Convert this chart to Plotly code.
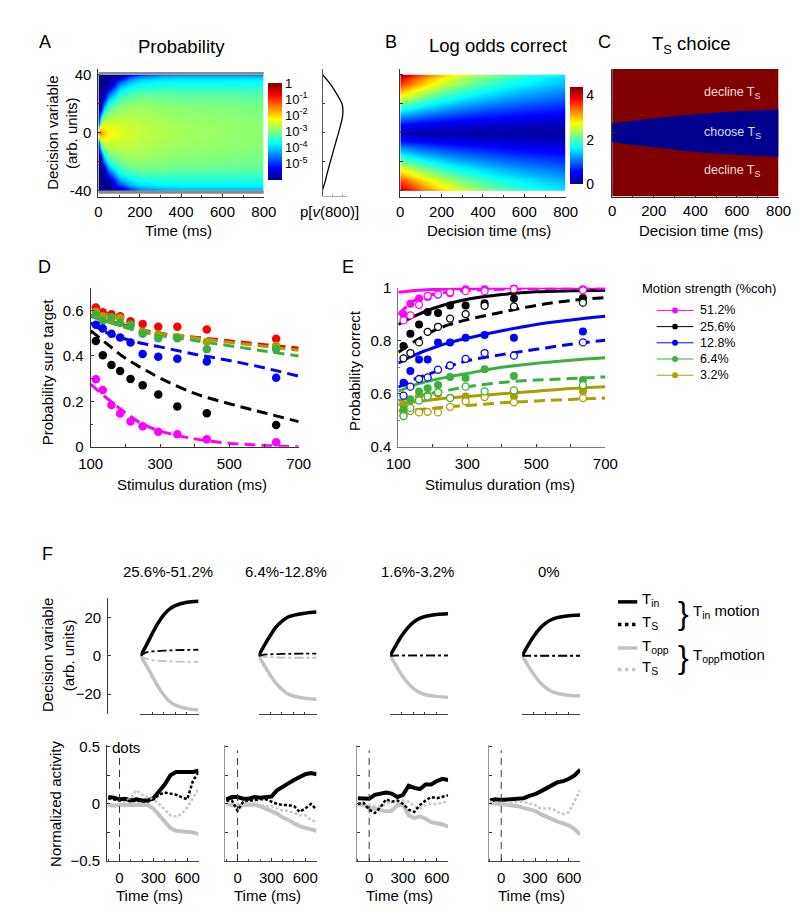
import plotly.graph_objects as go

W, H = 800, 911
FONT = "Liberation Sans, Arial, sans-serif"


def fx(px):
    return px / W


def fy(py):
    return 1 - py / H


# ---------------- Panel A : probability of decision variable ----------------
A_time = [0, 12, 25, 50, 100, 150, 200, 300, 400, 600, 800]
A_v_edges = [-40, -39, -36, -30, -22, -14, -7, -3, 3, 7, 14, 22, 30, 36, 39, 40]
# log10 probability at |v| = 0, 5, 10.5, 18, 26, 33, 37.5, 39.5 (one list per time)
A_logp_t0 = [-1.2, -4.5, -6.0, -6.0, -6.0, -6.0, -6.0, -6.0]
A_logp_t12 = [-1.5, -2.4, -3.8, -6.0, -6.0, -6.0, -6.0, -6.0]
A_logp_t25 = [-1.9, -2.3, -2.9, -4.3, -6.0, -6.0, -6.0, -6.0]
A_logp_t50 = [-2.2, -2.4, -2.7, -3.3, -4.5, -6.0, -6.0, -6.0]
A_logp_t100 = [-2.4, -2.5, -2.65, -2.95, -3.5, -4.3, -5.5, -6.0]
A_logp_t150 = [-2.5, -2.55, -2.65, -2.85, -3.25, -3.9, -4.6, -5.5]
A_logp_t200 = [-2.6, -2.62, -2.7, -2.85, -3.15, -3.7, -4.2, -5.0]
A_logp_t300 = [-2.7, -2.72, -2.78, -2.9, -3.15, -3.6, -4.0, -4.6]
A_logp_t400 = [-2.78, -2.8, -2.85, -2.95, -3.2, -3.6, -3.95, -4.5]
A_logp_t600 = [-2.85, -2.87, -2.9, -3.0, -3.2, -3.6, -3.95, -4.5]
A_logp_t800 = [-2.92, -2.93, -2.96, -3.05, -3.25, -3.6, -3.95, -4.5]
A_cols = [A_logp_t0, A_logp_t12, A_logp_t25, A_logp_t50, A_logp_t100, A_logp_t150,
          A_logp_t200, A_logp_t300, A_logp_t400, A_logp_t600, A_logp_t800]
A_row_index = [7, 6, 5, 4, 3, 2, 1, 0, 1, 2, 3, 4, 5, 6, 7]
A_z = [[col[i] for col in A_cols] for i in A_row_index]
A_cb_vals = [0, -1, -2, -3, -4, -5]
A_cb_text = ["1", "10<sup>-1</sup>", "10<sup>-2</sup>", "10<sup>-3</sup>", "10<sup>-4</sup>", "10<sup>-5</sup>"]

# distribution at 800 ms
Pv_v = [-40, -35, -30, -20, -10, 0, 10, 16, 20, 30, 35, 40]
Pv_p = [0.0, 0.11, 0.2, 0.39, 0.59, 0.79, 0.97, 1.0, 0.95, 0.55, 0.3, 0.0]

# ---------------- Panel B : log odds correct ----------------
B_time = [0, 100, 200, 300, 400, 500, 600, 700, 800]
B_v_edges = [-40, -38, -30, -20, -10, -0.5, 0.5, 10, 20, 30, 38, 40]
B_v39 = [4.14, 3.43, 2.93, 2.54, 2.26, 2.03, 1.84, 1.69, 1.55]
B_v34 = [3.61, 2.99, 2.55, 2.22, 1.97, 1.77, 1.61, 1.47, 1.35]
B_v25 = [2.66, 2.20, 1.88, 1.63, 1.45, 1.30, 1.18, 1.08, 0.99]
B_v15 = [1.59, 1.32, 1.13, 0.98, 0.87, 0.78, 0.71, 0.65, 0.60]
B_v5 = [0.56, 0.46, 0.39, 0.34, 0.30, 0.27, 0.25, 0.23, 0.21]
B_v0 = [0, 0, 0, 0, 0, 0, 0, 0, 0]
B_z = [B_v39, B_v34, B_v25, B_v15, B_v5, B_v0, B_v5, B_v15, B_v25, B_v34, B_v39]

# ---------------- Panel C : Ts choice boundary ----------------
C_time = [0, 100, 200, 300, 400, 500, 600, 700, 800]
C_upper = [6.5, 8.5, 10, 11.5, 13, 14, 14.8, 15.5, 16]
C_lower = [-6.5, -8.5, -10.2, -11.8, -13.3, -14.3, -15.2, -16, -16.7]

# ---------------- Panel D : probability sure target ----------------
D_dur = [115, 135, 160, 185, 215, 250, 295, 350, 435, 635]
D_red = [0.613, 0.593, 0.584, 0.575, 0.553, 0.541, 0.529, 0.529, 0.517, 0.476]
D_olive = [0.595, 0.575, 0.565, 0.567, 0.538, 0.507, 0.495, 0.483, 0.463, 0.445]
D_green = [0.58, 0.555, 0.57, 0.545, 0.538, 0.498, 0.478, 0.478, 0.430, 0.430]
D_blue = [0.538, 0.521, 0.498, 0.481, 0.459, 0.409, 0.397, 0.388, 0.376, 0.304]
D_black = [0.466, 0.403, 0.360, 0.334, 0.299, 0.271, 0.230, 0.178, 0.148, 0.096]
D_magenta = [0.298, 0.250, 0.184, 0.147, 0.112, 0.091, 0.066, 0.055, 0.033, 0.020]
FIT_T = [100, 150, 200, 250, 300, 400, 500, 600, 700]
Dfit_red = [0.58, 0.555, 0.535, 0.515, 0.50, 0.483, 0.467, 0.45, 0.435]
Dfit_olive = [0.575, 0.55, 0.53, 0.51, 0.497, 0.48, 0.46, 0.443, 0.425]
Dfit_green = [0.575, 0.55, 0.525, 0.505, 0.49, 0.468, 0.445, 0.422, 0.40]
Dfit_blue = [0.545, 0.50, 0.475, 0.455, 0.44, 0.408, 0.38, 0.348, 0.311]
Dfit_black = [0.512, 0.45, 0.39, 0.345, 0.303, 0.235, 0.19, 0.15, 0.111]
Dfit_magenta = [0.276, 0.21, 0.15, 0.10, 0.07, 0.035, 0.016, 0.006, 0.0]

# ---------------- Panel E : probability correct ----------------
E_mag_f = [0.90, 0.94, 0.96, 0.965, 0.975, 0.98, 0.995, 0.995, 0.998, 0.995]
E_mag_o = [0.877, 0.896, 0.936, 0.970, 0.975, 0.983, 0.988, 0.988, 0.995, 0.991]
E_blk_f = [0.781, 0.827, 0.862, 0.909, 0.905, 0.933, 0.933, 0.942, 0.960, 0.962]
E_blk_o = [0.734, 0.754, 0.794, 0.834, 0.853, 0.884, 0.901, 0.932, 0.93, 0.944]
E_blu_f = [0.642, 0.686, 0.73, 0.73, 0.794, 0.794, 0.812, 0.822, 0.812, 0.835]
E_blu_o = [0.593, 0.627, 0.656, 0.662, 0.691, 0.707, 0.732, 0.754, 0.744, 0.794]
E_grn_f = [0.541, 0.58, 0.609, 0.621, 0.633, 0.664, 0.66, 0.693, 0.667, 0.652]
E_grn_o = [0.516, 0.547, 0.575, 0.59, 0.606, 0.584, 0.627, 0.609, 0.613, 0.633]
E_olv_f = [0.56, 0.575, 0.59, 0.595, 0.60, 0.585, 0.59, 0.595, 0.59, 0.61]
E_olv_o = [0.52, 0.535, 0.53, 0.532, 0.53, 0.551, 0.572, 0.588, 0.568, 0.584]
Efit_mag_s = [0.983, 0.99, 0.994, 0.996, 0.997, 0.999, 1.0, 1.0, 1.0]
Efit_mag_d = [0.90, 0.955, 0.975, 0.984, 0.99, 0.995, 0.997, 0.998, 0.998]
Efit_blk_s = [0.862, 0.895, 0.922, 0.942, 0.957, 0.975, 0.985, 0.989, 0.991]
Efit_blk_d = [0.757, 0.80, 0.837, 0.862, 0.88, 0.908, 0.934, 0.952, 0.963]
Efit_blu_s = [0.716, 0.748, 0.773, 0.794, 0.810, 0.838, 0.862, 0.879, 0.893]
Efit_blu_d = [0.625, 0.657, 0.68, 0.705, 0.725, 0.748, 0.768, 0.787, 0.802]
Efit_grn_s = [0.61, 0.635, 0.652, 0.665, 0.677, 0.70, 0.715, 0.727, 0.736]
Efit_grn_d = [0.575, 0.59, 0.603, 0.615, 0.627, 0.643, 0.652, 0.658, 0.664]
Efit_olv_s = [0.56, 0.57, 0.578, 0.585, 0.59, 0.60, 0.61, 0.62, 0.627]
Efit_olv_d = [0.535, 0.54, 0.545, 0.552, 0.556, 0.566, 0.573, 0.579, 0.584]
coh_labels = ["51.2%", "25.6%", "12.8%", "6.4%", "3.2%"]

# ---------------- Panel F top : model decision variable ----------------
FT_t = [200, 250, 300, 350, 400, 450, 500, 600, 700]
FT_in_1 = [0, 5.5, 11.5, 17, 21.5, 24.5, 26.3, 28, 28.6]
FT_opp_1 = [0, -5, -10.5, -16, -20.5, -23.8, -25.8, -27.6, -28.3]
FT_sin_1 = [0, 1.8, 2.3, 2.5, 2.7, 2.85, 3.0, 3.1, 3.2]
FT_sopp_1 = [0, -1.5, -2.2, -2.5, -2.7, -2.85, -3.0, -3.1, -3.2]
FT_in_2 = [0, 5.5, 10.5, 15, 18, 20.2, 21.2, 22.3, 22.9]
FT_opp_2 = [0, -5, -10, -14.3, -17.5, -19.8, -21, -22.2, -22.7]
FT_sin_2 = [0, 0.6, 0.8, 0.9, 1.0, 1.05, 1.1, 1.15, 1.2]
FT_sopp_2 = [0, -0.5, -0.7, -0.8, -0.9, -0.95, -1.0, -1.0, -1.0]
FT_in_3 = [0, 5.5, 10.5, 14.5, 17.5, 19.5, 20.6, 21.6, 22]
FT_opp_3 = [0, -5, -10, -14, -17, -19, -20.2, -21.2, -21.8]
FT_sin_3 = [0, 0.2, 0.25, 0.3, 0.3, 0.3, 0.3, 0.3, 0.3]
FT_sopp_3 = [0, -0.1, -0.15, -0.2, -0.2, -0.2, -0.2, -0.2, -0.2]
FT_in_4 = [0, 5.5, 10.3, 14.2, 17, 18.9, 20, 21, 21.4]
FT_opp_4 = [0, -5, -9.8, -13.6, -16.5, -18.5, -19.6, -20.6, -21]
FT_sin_4 = [0, 0.05, 0.05, 0.05, 0.05, 0.05, 0.05, 0.05, 0.05]
FT_sopp_4 = [0, -0.05, -0.05, -0.05, -0.05, -0.05, -0.05, -0.05, -0.05]
F_titles = ["25.6%-51.2%", "6.4%-12.8%", "1.6%-3.2%", "0%"]

# ---------------- Panel F bottom : normalized neural activity ----------------
FB_t = [-100, -50, 0, 50, 100, 150, 200, 250, 300, 350, 400, 450, 500, 550, 600, 650, 700]
FB_in_1 = [0.06, 0.055, 0.04, 0.045, 0.03, 0.04, 0.03, 0.03, 0.05, 0.11, 0.17, 0.25, 0.28, 0.28, 0.28, 0.28, 0.29]
FB_opp_1 = [-0.01, -0.015, -0.01, -0.01, -0.005, -0.01, -0.005, -0.01, -0.04, -0.1, -0.16, -0.21, -0.235, -0.24, -0.24, -0.25, -0.265]
FB_sin_1 = [0.05, 0.04, 0.03, 0.04, 0.02, 0.03, 0.02, 0.02, 0.04, 0.08, 0.1, 0.09, 0.08, 0.06, 0.04, 0.2, 0.28]
FB_sopp_1 = [0.0, -0.01, 0.0, 0.02, 0.05, 0.12, 0.08, 0.06, 0.04, 0.0, -0.05, -0.1, -0.11, -0.09, -0.03, 0.05, 0.13]
FB_in_2 = [0.04, 0.06, 0.06, 0.045, 0.045, 0.06, 0.055, 0.06, 0.065, 0.12, 0.155, 0.18, 0.21, 0.235, 0.26, 0.27, 0.26]
FB_opp_2 = [0.0, -0.01, -0.02, -0.01, -0.01, -0.005, -0.02, -0.04, -0.06, -0.085, -0.12, -0.14, -0.17, -0.195, -0.21, -0.225, -0.235]
FB_sin_2 = [0.03, 0.03, -0.06, 0.02, 0.03, 0.03, 0.04, 0.04, 0.02, 0.0, -0.01, -0.01, -0.02, -0.07, -0.04, 0.0, -0.05]
FB_sopp_2 = [0.0, 0.0, 0.0, -0.01, 0.0, 0.0, -0.01, -0.02, -0.02, -0.04, -0.06, -0.06, -0.08, -0.1, -0.1, -0.14, -0.16]
FB_in_3 = [0.05, 0.05, 0.045, 0.08, 0.09, 0.1, 0.09, 0.06, 0.08, 0.16, 0.14, 0.13, 0.17, 0.17, 0.2, 0.22, 0.21]
FB_opp_3 = [0.0, -0.01, -0.03, -0.04, -0.055, -0.065, -0.06, -0.01, -0.01, -0.1, -0.125, -0.11, -0.13, -0.16, -0.17, -0.18, -0.2]
FB_sin_3 = [0.0, 0.01, -0.05, -0.08, -0.03, 0.04, 0.02, 0.03, 0.0, -0.05, -0.07, -0.01, 0.03, 0.06, 0.05, 0.06, 0.075]
FB_sopp_3 = [0.0, 0.0, -0.01, -0.02, -0.02, 0.0, 0.02, 0.02, 0.03, 0.02, -0.02, -0.04, -0.01, 0.0, 0.0, 0.01, 0.02]
FB_in_4 = [0.03, 0.04, 0.035, 0.04, 0.04, 0.045, 0.05, 0.07, 0.085, 0.11, 0.14, 0.17, 0.19, 0.2, 0.22, 0.25, 0.3]
FB_opp_4 = [0.01, 0.005, 0.0, -0.01, -0.01, -0.02, -0.035, -0.045, -0.06, -0.09, -0.115, -0.135, -0.155, -0.17, -0.19, -0.22, -0.27]
FB_sopp_4 = [0.02, 0.01, 0.01, 0.0, 0.01, 0.02, 0.015, 0.0, -0.01, -0.04, -0.04, -0.04, -0.07, -0.09, -0.07, 0.02, 0.12]
dots_onset = 0

# ---------------- colours ----------------
MAG, BLK, BLU, GRN, OLV, RED = "#ff00ff", "#000000", "#0000ff", "#3cb03c", "#a89f00", "#ff0000"
GRAY = "#c2c2c2"
JET = [[0.0, "rgb(0,0,143)"], [0.125, "rgb(0,0,255)"], [0.375, "rgb(0,255,255)"],
       [0.625, "rgb(255,255,0)"], [0.875, "rgb(255,0,0)"], [1.0, "rgb(128,0,0)"]]

fig = go.Figure()
layout = dict(width=W, height=H, autosize=False, margin=dict(l=0, r=0, t=0, b=0),
              paper_bgcolor="white", plot_bgcolor="white", showlegend=False,
              font=dict(family=FONT, size=15, color="black"))

AX = dict(showline=True, linecolor="#333", linewidth=1, ticks="inside", ticklen=3,
          tickcolor="#333", showgrid=False, zeroline=False, tickfont=dict(size=15, family=FONT),
          ticklabelstandoff=3)


def xax(n, a, b, rng, anchor, **kw):
    d = dict(AX)
    d.update(domain=[fx(a), fx(b)], range=rng, anchor=anchor)
    d.update(kw)
    layout["xaxis" + ("" if n == 1 else str(n))] = d


def yax(n, top, bot, rng, anchor, **kw):
    d = dict(AX)
    d.update(domain=[fy(bot), fy(top)], range=rng, anchor=anchor)
    d.update(kw)
    layout["yaxis" + ("" if n == 1 else str(n))] = d


shapes, anns = [], []


def ann(text, px, py, size=15, xanchor="center", yanchor="middle", angle=0, color="black"):
    anns.append(dict(text=text, x=fx(px), y=fy(py), xref="paper", yref="paper", showarrow=False,
                     font=dict(family=FONT, size=size, color=color), xanchor=xanchor,
                     yanchor=yanchor, textangle=angle))


minor100 = dict(dtick=100, ticklen=2, ticks="inside", tickcolor="#333")
vticks = dict(tickvals=[-40, -20, 0, 20, 40])

# ---- A ----
xax(1, 80, 251, [0, 800], "y", dtick=200, minor=minor100, ticklabelstandoff=1)
yax(1, 53, 183, [-44, 44], "x", tickvals=[-40, 0, 40], ticktext=["-40", "0", "40"],
    minor=dict(tickvals=[-20, 20], ticklen=3, ticks="inside", tickcolor="#333"))
fig.add_trace(go.Heatmap(x=A_time, y=A_v_edges, z=A_z, zmin=-6, zmax=0, zsmooth="best",
                         colorscale=JET, xaxis="x", yaxis="y",
                         colorbar=dict(x=fx(255), xanchor="left", y=fy(116.7), yanchor="middle",
                                       len=96.7, lenmode="pixels", thickness=14, outlinewidth=0,
                                       tickvals=A_cb_vals, ticktext=A_cb_text, ticks="",
                                       tickfont=dict(size=13, family=FONT), xpad=0, ypad=0)))
for y0, y1 in [(40, 42), (-42, -40)]:
    shapes.append(dict(type="rect", xref="x", yref="y", x0=0, x1=800, y0=y0, y1=y1,
                       fillcolor="#8a8a8a", line=dict(width=0), layer="above"))
# p[v(800)]
xax(2, 311.7, 336.7, [0, 1.19], "y2", showticklabels=False, dtick=0.5, linecolor="#aaa", tickcolor="#aaa", ticklen=2)
yax(2, 53, 182, [-44, 44], "x2", showticklabels=False, tickvals=[-20, 0, 20], linecolor="#555", ticklen=2)
fig.add_trace(go.Scatter(x=Pv_p, y=Pv_v, mode="lines", line=dict(color="black", width=1.3, shape="spline"),
                         xaxis="x2", yaxis="y2"))

# ---- B ----
xax(3, 392, 563, [0, 800], "y3", dtick=200, minor=minor100, ticklabelstandoff=1)
yax(3, 53, 183, [-44, 44], "x3", showticklabels=False, **vticks)
fig.add_trace(go.Heatmap(x=B_time, y=B_v_edges, z=B_z, zmin=0, zmax=4.35, zsmooth="best",
                         colorscale=JET, xaxis="x3", yaxis="y3",
                         colorbar=dict(x=fx(567.3), xanchor="left", y=fy(121), yanchor="middle",
                                       len=96.6, lenmode="pixels", thickness=13, outlinewidth=0,
                                       tickvals=[0, 2, 4], ticks="",
                                       tickfont=dict(size=14, family=FONT), xpad=0, ypad=0)))

# ---- C ----
xax(4, 611, 783, [0, 800], "y4", dtick=200, minor=minor100, ticklabelstandoff=0)
yax(4, 53, 183, [-44, 44], "x4", showticklabels=False, **vticks)
shapes.append(dict(type="rect", xref="x4", yref="y4", x0=0, x1=800, y0=-44, y1=44,
                   fillcolor="#800000", line=dict(width=0), layer="below"))
fig.add_trace(go.Scatter(x=C_time + C_time[::-1], y=C_upper + C_lower[::-1], mode="lines",
                         fill="toself", fillcolor="#00008f", line=dict(width=0, color="#00008f"),
                         xaxis="x4", yaxis="y4"))

# ---- D ----
xax(5, 72, 287, [100, 700], "y5", tickvals=[100, 300, 500, 700], minor=dict(tickvals=[200, 400, 600], ticklen=3, ticks="inside", tickcolor="#333"))
yax(5, 276, 438, [0, 0.7], "x5", tickvals=[0, 0.2, 0.4, 0.6], ticktext=["0", "0.2", "0.4", "0.6"],
    minor=dict(tickvals=[0.1, 0.3, 0.5], ticklen=2, ticks="inside", tickcolor="#333"))
D_series = [(Dfit_red, D_red, RED), (Dfit_olive, D_olive, OLV), (Dfit_green, D_green, GRN),
            (Dfit_blue, D_blue, BLU), (Dfit_black, D_black, BLK), (Dfit_magenta, D_magenta, MAG)]
for fit, pts, col in D_series:
    fig.add_trace(go.Scatter(x=FIT_T, y=fit, mode="lines", line=dict(color=col, width=3, dash="11px,6px", shape="spline"),
                             xaxis="x5", yaxis="y5"))
for fit, pts, col in D_series:
    fig.add_trace(go.Scatter(x=D_dur, y=pts, mode="markers", marker=dict(color=col, size=8.5, line=dict(width=0)),
                             xaxis="x5", yaxis="y5", cliponaxis=False))

# ---- E ----
xax(6, 390, 604, [100, 700], "y6", tickvals=[100, 300, 500, 700], minor=dict(tickvals=[200, 400, 600], ticklen=3, ticks="inside", tickcolor="#333"),
    linecolor="#777")
yax(6, 276, 438, [0.4, 1.0], "x6", tickvals=[0.4, 0.6, 0.8, 1.0], ticktext=["0.4", "0.6", "0.8", "1"],
    minor=dict(tickvals=[0.5, 0.7, 0.9], ticklen=2, ticks="inside", tickcolor="#777"), linecolor="#777")
E_series = [(Efit_olv_s, Efit_olv_d, E_olv_f, E_olv_o, OLV), (Efit_grn_s, Efit_grn_d, E_grn_f, E_grn_o, GRN),
            (Efit_blu_s, Efit_blu_d, E_blu_f, E_blu_o, BLU), (Efit_blk_s, Efit_blk_d, E_blk_f, E_blk_o, BLK),
            (Efit_mag_s, Efit_mag_d, E_mag_f, E_mag_o, MAG)]
for s, d, f, o, col in E_series:
    fig.add_trace(go.Scatter(x=FIT_T, y=d, mode="lines", line=dict(color=col, width=3, dash="11px,6px", shape="spline"),
                             xaxis="x6", yaxis="y6"))
    fig.add_trace(go.Scatter(x=FIT_T, y=s, mode="lines", line=dict(color=col, width=3, shape="spline"),
                             xaxis="x6", yaxis="y6"))
for s, d, f, o, col in E_series:
    fig.add_trace(go.Scatter(x=D_dur, y=f, mode="markers", marker=dict(color=col, size=8, line=dict(width=0)),
                             xaxis="x6", yaxis="y6", cliponaxis=False))
    fig.add_trace(go.Scatter(x=D_dur, y=o, mode="markers", marker=dict(color="white", size=7, line=dict(width=1.3, color=col)),
                             xaxis="x6", yaxis="y6", cliponaxis=False))

# E legend
ann("Motion strength (%coh)", 640, 277, size=13, xanchor="left")
for i, (lab, col) in enumerate(zip(coh_labels, [MAG, BLK, BLU, GRN, OLV])):
    yy = 299 + i * 16.5
    shapes.append(dict(type="line", xref="paper", yref="paper", x0=fx(657), x1=fx(695), y0=fy(yy), y1=fy(yy),
                       line=dict(color=col, width=1)))
    shapes.append(dict(type="circle", xref="paper", yref="paper", x0=fx(673), x1=fx(679), y0=fy(yy + 3), y1=fy(yy - 3),
                       fillcolor=col, line=dict(width=0)))
    ann(lab, 700, yy, size=12.5, xanchor="left")

# ---- F top ----
top_seg = [(123.5, 183.5), (245.5, 305.5), (381.5, 441.5), (518, 578)]
bot_dom = [(89, 183.5), (211, 305.5), (347, 441.5), (483.5, 578)]
FT_sets = [(FT_in_1, FT_opp_1, FT_sin_1, FT_sopp_1), (FT_in_2, FT_opp_2, FT_sin_2, FT_sopp_2),
           (FT_in_3, FT_opp_3, FT_sin_3, FT_sopp_3), (FT_in_4, FT_opp_4, FT_sin_4, FT_sopp_4)]
for k in range(4):
    n = 7 + k
    xs, ys = "x%d" % n, "y%d" % n
    xax(n, top_seg[k][0], top_seg[k][1], [200, 700], ys, dtick=100, showticklabels=False, linecolor="#444", ticklen=2)
    if k == 0:
        yax(n, 592, 710, [-30.3, 30.3], "free", position=fx(bot_dom[0][0]), tickvals=[-20, 0, 20],
            ticktext=["\u221220", "0", "20"])
    else:
        yax(n, 592, 710, [-30.3, 30.3], xs, visible=False)
    tin, topp, sin, sopp = FT_sets[k]
    fig.add_trace(go.Scatter(x=FT_t, y=topp, mode="lines", line=dict(color=GRAY, width=3.5, shape="spline"), xaxis=xs, yaxis=ys))
    fig.add_trace(go.Scatter(x=FT_t, y=tin, mode="lines", line=dict(color=BLK, width=3.5, shape="spline"), xaxis=xs, yaxis=ys))
    fig.add_trace(go.Scatter(x=FT_t, y=sopp, mode="lines", line=dict(color=GRAY, width=1.8, dash="dashdot", shape="spline"), xaxis=xs, yaxis=ys))
    fig.add_trace(go.Scatter(x=FT_t, y=sin, mode="lines", line=dict(color=BLK, width=1.8, dash="dashdot", shape="spline"), xaxis=xs, yaxis=ys))
    ann(F_titles[k], (top_seg[k][0] + top_seg[k][1]) / 2 - 2, 565, size=15)

# ---- F bottom ----
FB_sets = [(FB_in_1, FB_opp_1, FB_sin_1, FB_sopp_1), (FB_in_2, FB_opp_2, FB_sin_2, FB_sopp_2),
           (FB_in_3, FB_opp_3, FB_sin_3, FB_sopp_3), (FB_in_4, FB_opp_4, None, FB_sopp_4)]
for k in range(4):
    n = 11 + k
    xs, ys = "x%d" % n, "y%d" % n
    xax(n, bot_dom[k][0], bot_dom[k][1], [-110, 700], ys, tickvals=[0, 300, 600],
        minor=dict(dtick=100, ticklen=2, ticks="inside", tickcolor="#444"), linecolor="#444")
    yax(n, 742, 860, [-0.5, 0.515], xs, tickvals=[-0.5, 0, 0.5],
        ticktext=["\u22120.5", "0", "0.5"], showticklabels=(k == 0),
        minor=dict(tickvals=[-0.25, 0.25], ticklen=3, ticks="inside", tickcolor="#333"),
        linecolor="#333" if k == 0 else "#999")
    shapes.append(dict(type="line", xref=xs, yref=ys, x0=dots_onset, x1=dots_onset, y0=-0.5, y1=0.47,
                       line=dict(color="#333", width=1, dash="7px,5px")))
    tin, topp, sin, sopp = FB_sets[k]
    fig.add_trace(go.Scatter(x=FB_t, y=topp, mode="lines", line=dict(color=GRAY, width=4), xaxis=xs, yaxis=ys))
    fig.add_trace(go.Scatter(x=FB_t, y=tin, mode="lines", line=dict(color=BLK, width=4), xaxis=xs, yaxis=ys))
    fig.add_trace(go.Scatter(x=FB_t, y=sopp, mode="lines", line=dict(color="#c8c8c8", width=2.5, dash="3px,2px"), xaxis=xs, yaxis=ys))
    if sin is not None:
        fig.add_trace(go.Scatter(x=FB_t, y=sin, mode="lines", line=dict(color=BLK, width=2.5, dash="3px,2px"), xaxis=xs, yaxis=ys))
    ann("Time (ms)", (bot_dom[k][0] + bot_dom[k][1]) / 2 - 3, 895, size=15)
ann("dots", 92, 744, size=15, xanchor="left")

# F legend
for yy, col, dash in [(596, BLK, "solid"), (619, BLK, "dot"), (643, GRAY, "solid"), (665, "#c8c8c8", "dot")]:
    shapes.append(dict(type="line", xref="paper", yref="paper", x0=fx(617), x1=fx(637), y0=fy(yy), y1=fy(yy),
                       line=dict(color=col, width=3.5, dash=dash)))
ann("T<sub>in</sub>", 640, 594, xanchor="left")
ann("T<sub>S</sub>", 640, 617, xanchor="left")
ann("T<sub>opp</sub>", 640, 641, xanchor="left")
ann("T<sub>S</sub>", 640, 663, xanchor="left")
ann("}", 685, 607, size=32)
ann("}", 685, 652, size=32)
ann("T<sub>in</sub> motion", 692, 606, xanchor="left")
ann("T<sub>opp</sub>motion", 692, 651, xanchor="left")

# ---- text: titles, labels ----
for lab, px, py in [("A", 25, 25), ("B", 382, 25), ("C", 603, 25), ("D", 24, 255), ("E", 338, 255), ("F", 27, 547)]:
    ann(lab, px, py, size=18)
ann("Probability", 166, 30, size=18.5)
ann("Log odds correct", 493, 29, size=18.5)
ann("T<sub>S</sub> choice", 693, 29, size=18.5)
ann("Decision variable", 33, 118, angle=-90)
ann("(arb. units)", 53, 118, angle=-90)
ann("Time (ms)", 163, 218)
ann("p[<i>v</i>(800)]", 319, 198)
ann("Decision time (ms)", 484, 218)
ann("Decision time (ms)", 703, 218)
ann("decline T<sub>S</sub>", 735, 77, size=12.5, color="#f5dcdc")
ann("choose T<sub>S</sub>", 735, 118, size=12.5, color="#dcdcf5")
ann("decline T<sub>S</sub>", 735, 157, size=12.5, color="#f5dcdc")
ann("Probability sure target", 27, 362, angle=-90)
ann("Stimulus duration (ms)", 177, 476)
ann("Probability correct", 344, 360, angle=-90)
ann("Stimulus duration (ms)", 495, 476)
ann("Decision variable", 28, 650, angle=-90)
ann("(arb. units)", 49, 650, angle=-90)
ann("Normalized activity", 35, 802, angle=-90)

layout["shapes"] = shapes
layout["annotations"] = anns
fig.update_layout(**layout)
fig.write_html("out.html")
